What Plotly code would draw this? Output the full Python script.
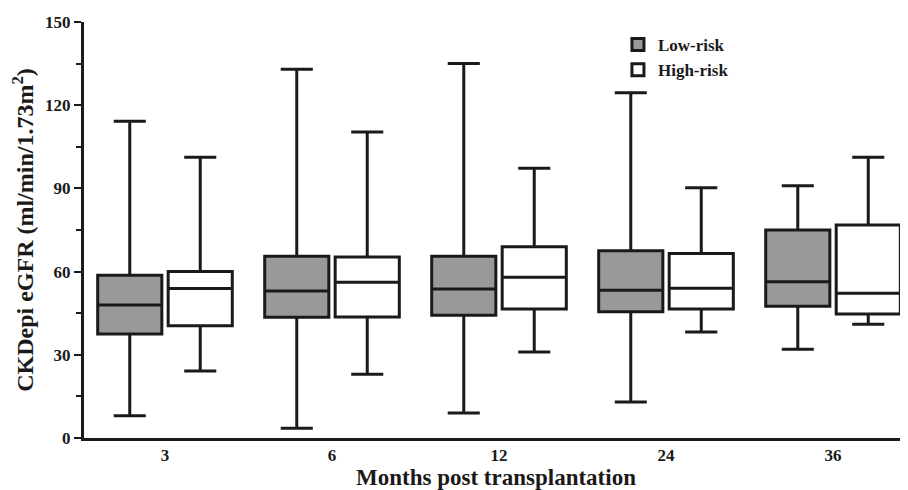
import plotly.graph_objects as go

months = ["3", "6", "12", "24", "36"]

low_min = [8, 3.5, 9, 13, 32]
low_q1 = [37.5, 43.5, 44.3, 45.5, 47.5]
low_med = [48, 53, 53.7, 53.3, 56.3]
low_q3 = [58.7, 65.5, 65.5, 67.5, 75]
low_max = [114.2, 133, 135, 124.5, 91]

high_min = [24.2, 23, 31, 38.2, 41]
high_q1 = [40.5, 43.6, 46.5, 46.5, 44.7]
high_med = [53.9, 56.2, 58, 54, 52.2]
high_q3 = [60, 65.3, 69, 66.5, 76.8]
high_max = [101.2, 110.3, 97.3, 90.2, 101.2]

font_family = "Liberation Serif"
line_col = "#1a1a1a"

fig = go.Figure()
fig.add_trace(go.Box(
    name="Low-risk", x=months, q1=low_q1, median=low_med, q3=low_q3,
    lowerfence=low_min, upperfence=low_max,
    fillcolor="#999999", line=dict(color=line_col, width=3),
    whiskerwidth=0.5, boxpoints=False, hoverinfo="skip",
))
fig.add_trace(go.Box(
    name="High-risk", x=months, q1=high_q1, median=high_med, q3=high_q3,
    lowerfence=high_min, upperfence=high_max,
    fillcolor="#ffffff", line=dict(color=line_col, width=3),
    whiskerwidth=0.5, boxpoints=False, hoverinfo="skip",
))

fig.update_layout(
    width=900, height=482,
    margin=dict(l=76, r=0, t=14, b=52),
    paper_bgcolor="white", plot_bgcolor="white",
    boxmode="group", boxgap=0.156, boxgroupgap=0.09,
    font=dict(family=font_family, color=line_col, size=17, weight="bold"),
    legend=dict(
        x=0.648, y=0.988, xanchor="left", yanchor="top",
        font=dict(family=font_family, size=17, weight="bold", color=line_col),
        bgcolor="rgba(0,0,0,0)", itemwidth=30, tracegroupgap=4,
    ),
    showlegend=True,
)

fig.update_xaxes(
    type="category", range=[-0.485, 4.449], automargin=False,
    showline=True, linecolor=line_col, linewidth=3,
    ticks="", showgrid=False, zeroline=False,
    tickfont=dict(family=font_family, size=17, weight="bold"),
    title=dict(text="Months post transplantation",
               font=dict(family=font_family, size=23, weight="bold"),
               standoff=2),
)
fig.update_yaxes(
    range=[0, 150], tickvals=[0, 30, 60, 90, 120, 150], automargin=False,
    showline=True, linecolor=line_col, linewidth=3,
    ticks="outside", ticklen=7, tickwidth=2, tickcolor=line_col,
    minor=dict(ticks="outside", ticklen=5, tickwidth=2, tickcolor=line_col,
               tickvals=[15, 45, 75, 105, 135]),
    showgrid=False, zeroline=False,
    tickfont=dict(family=font_family, size=17, weight="bold"),
    title=dict(text="CKDepi eGFR (ml/min/1.73m<sup>2</sup>)",
               font=dict(family=font_family, size=24, weight="bold"),
               standoff=6),
)

fig.write_html("out.html")
